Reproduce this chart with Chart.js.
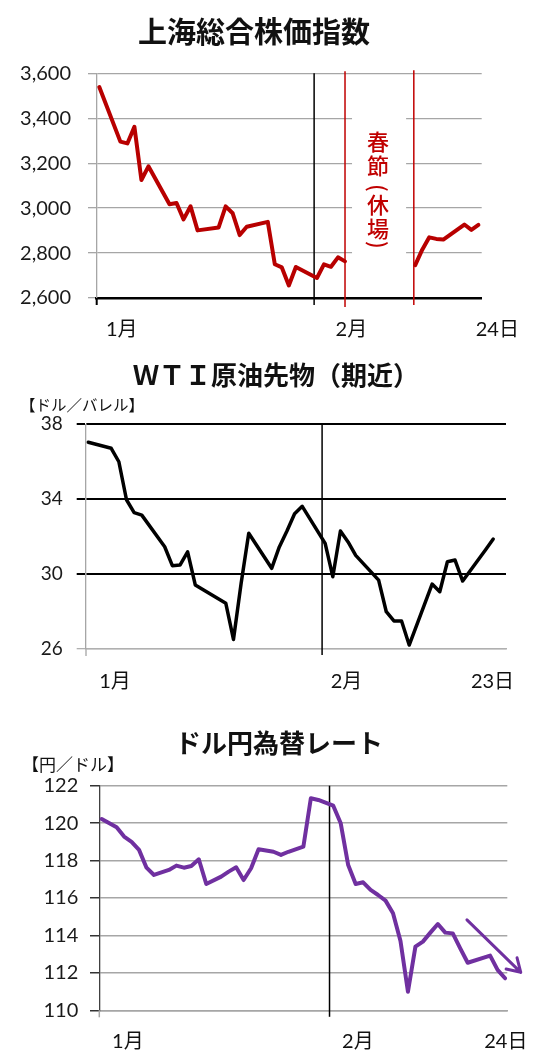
<!DOCTYPE html>
<html>
<head>
<meta charset="utf-8">
<script src="https://cdn.jsdelivr.net/npm/chart.js@4"></script>
<style>
  body { margin: 0; background: #fff; }
  canvas { display: block; }
</style>
</head>
<body>
<canvas id="sh-chart" width="555" height="345"></canvas>
<canvas id="wti-chart" width="555" height="360"></canvas>
<canvas id="jpy-chart" width="555" height="358"></canvas>
<script>
// x = day of the year (1 = Jan 1, 32 = Feb 1)
// 上海総合株価指数
const shDays   = [1, 4, 5, 6, 7, 8, 11, 12, 13, 14, 15, 18, 19, 20, 21, 22, 25, 26, 27, 28, 29, 32, 33, 34, 35, 36, 41, 46, 47, 48, 49, 50, 53, 54, 55];
const shValues = [3539, 3296, 3288, 3362, 3125, 3186, 3017, 3023, 2950, 3008, 2901, 2914, 3008, 2977, 2880, 2917, 2939, 2750, 2736, 2656, 2738, 2689, 2750, 2739, 2781, 2763, null, 2746, 2815, 2870, 2863, 2860, 2927, 2903, 2925];
const shTicks  = [2600, 3600, 200];
const shHoliday = [36, 45.8];          // 春節 休場の前後
const shXLabels = ['1月', '2月', '24日'];
const shXLabelDays = [4.2, 36.9, 57.7];

// WTI原油先物（期近）
const wtiDays   = [1, 4, 5, 6, 7, 8, 11, 12, 13, 14, 15, 19, 20, 21, 22, 25, 26, 27, 28, 29, 32, 33, 34, 35, 36, 39, 40, 41, 42, 43, 46, 47, 48, 49, 50, 53, 54];
const wtiValues = [37.04, 36.72, 36.0, 33.97, 33.28, 33.15, 31.46, 30.45, 30.48, 31.19, 29.42, 28.44, 26.51, 29.5, 32.18, 30.31, 31.45, 32.3, 33.22, 33.62, 31.64, 29.86, 32.3, 31.72, 31.0, 29.68, 27.99, 27.5, 27.5, 26.21, 29.47, 29.06, 30.66, 30.75, 29.63, 31.3, 31.87];
const wtiTicks  = [26, 38, 4];
const wtiXLabels = ['1月', '2月', '23日'];
const wtiXLabelDays = [4.5, 34.8, 53.9];

// ドル円為替レート
const jpyDays   = [1, 3, 4, 5, 6, 7, 8, 10, 11, 12, 13, 14, 15, 17, 18, 19, 20, 21, 22, 24, 25, 26, 28, 29, 30, 32, 33, 34, 35, 36, 37, 38, 39, 40, 41, 42, 43, 44, 45, 46, 47, 48, 49, 50, 53, 54, 55];
const jpyValues = [120.22, 119.78, 119.28, 119.0, 118.57, 117.62, 117.23, 117.5, 117.73, 117.62, 117.71, 118.07, 116.75, 117.14, 117.41, 117.64, 116.96, 117.59, 118.6, 118.47, 118.3, 118.47, 118.74, 121.33, 121.24, 120.93, 119.99, 117.76, 116.75, 116.84, 116.43, 116.16, 115.86, 115.18, 113.7, 110.99, 113.4, 113.67, 114.15, 114.61, 114.15, 114.11, 113.31, 112.54, 112.92, 112.16, 111.71];
const jpyTicks  = [110, 122, 2];
const jpyXLabels = ['1月', '2月', '24日'];
const jpyXLabelDays = [4.5, 35.3, 55.1];
const jpyArrow = [[49.9, 114.83], [57.1, 112.03]];

const monthLine = 31.6;   // 1月/2月 の境目

const toPoints = (days, vals) => days.map((d, i) => ({ x: d, y: vals[i] }));

const decor = (o) => ({
    id: 'decor',
    beforeDatasetsDraw(chart) {
        const { ctx, chartArea: a, scales: { x, y } } = chart;
        ctx.save();
        if (o.box) {
            const l = x.getPixelForValue(o.box[0]), r = x.getPixelForValue(o.box[1]);
            const t = y.getPixelForValue(o.box[2]), b = y.getPixelForValue(o.box[3]);
            ctx.fillStyle = '#fff';
            ctx.fillRect(l, t, r - l, b - t);
        }
        ctx.strokeStyle = o.tickColor;
        ctx.lineWidth = o.tickWidth;
        ctx.beginPath();
        ctx.moveTo(a.left, a.bottom);
        ctx.lineTo(a.left, a.bottom + 7);
        ctx.stroke();
        o.vlines.forEach(v => {
            const px = x.getPixelForValue(v.at);
            ctx.strokeStyle = v.color;
            ctx.lineWidth = v.width;
            ctx.beginPath();
            ctx.moveTo(px, a.top - (v.over || 0));
            ctx.lineTo(px, a.bottom + v.under);
            ctx.stroke();
        });
        ctx.restore();
    },
    afterDraw(chart) {
        const { ctx, chartArea: a, scales: { x, y } } = chart;
        ctx.save();
        ctx.fillStyle = '#111';
        ctx.textAlign = 'center';
        ctx.textBaseline = 'middle';
        ctx.font = o.titleFont;
        ctx.fillText(o.title, o.titleX, o.titleY);
        if (o.unit) {
            ctx.textAlign = 'left';
            ctx.font = o.unitFont;
            ctx.fillText(o.unit, o.unitX, o.unitY);
        }
        ctx.textAlign = 'center';
        ctx.font = '20px Lato, "Noto Sans CJK JP"';
        o.xLabelDays.forEach((d, i) => {
            ctx.fillText(o.xLabels[i], x.getPixelForValue(d), a.bottom + o.xLabelGap);
        });
        if (o.vtext) {
            const px = x.getPixelForValue(o.vtext.at);
            ctx.fillStyle = o.vtext.color;
            ctx.font = '500 22px "Noto Sans CJK JP"';
            o.vtext.chars.forEach(([ch, py, rot]) => {
                ctx.save();
                ctx.translate(px, py);
                if (rot) ctx.rotate(Math.PI / 2);
                ctx.fillText(ch, 0, 0);
                ctx.restore();
            });
        }
        if (o.arrow) {
            const [s, e] = o.arrow;
            const x0 = x.getPixelForValue(s[0]), y0 = y.getPixelForValue(s[1]);
            const x1 = x.getPixelForValue(e[0]), y1 = y.getPixelForValue(e[1]);
            const ang = Math.atan2(y0 - y1, x0 - x1);
            ctx.strokeStyle = o.arrowColor;
            ctx.lineWidth = 3;
            ctx.lineCap = 'round';
            ctx.beginPath();
            ctx.moveTo(x0, y0);
            ctx.lineTo(x1, y1);
            [0.55, -0.55].forEach(d => {
                ctx.moveTo(x1, y1);
                ctx.lineTo(x1 + 15 * Math.cos(ang + d), y1 + 15 * Math.sin(ang + d));
            });
            ctx.stroke();
        }
        ctx.restore();
    }
});

const makeChart = (id, c) => {
    const option = {
        type: 'line',
        data: {
            datasets: [{
                data: toPoints(c.days, c.values),
                borderColor: c.color,
                borderWidth: c.lineWidth,
                pointRadius: 0,
                tension: 0,
                spanGaps: false,
                borderJoinStyle: 'round',
                borderCapStyle: 'round',
            }]
        },
        options: {
            responsive: false,
            animation: false,
            events: [],
            layout: { padding: c.padding },
            plugins: { legend: { display: false }, tooltip: { enabled: false } },
            scales: {
                x: {
                    type: 'linear',
                    min: c.xRange[0],
                    max: c.xRange[1],
                    grid: { display: false, drawTicks: false },
                    ticks: { display: false },
                    border: { color: c.xAxisColor, width: c.xAxisWidth },
                    afterFit: s => { s.height = 0; }
                },
                y: {
                    min: c.ticks[0],
                    max: c.ticks[1],
                    ticks: {
                        stepSize: c.ticks[2],
                        padding: c.labelPad,
                        color: '#1a1a1a',
                        font: { family: 'Lato', size: c.labelSize },
                        callback: v => v.toLocaleString('en-US')
                    },
                    grid: {
                        color: c.gridColor,
                        lineWidth: c.gridWidth,
                        tickLength: c.tickLength,
                        tickColor: c.tickColor || c.gridColor
                    },
                    border: { color: c.yAxisColor, width: 1.3 },
                    afterFit: s => { s.width = c.axisLeft; }
                }
            }
        },
        plugins: [decor(c.decor)]
    };
    new Chart(document.getElementById(id), option);
};

makeChart('sh-chart', {
    days: shDays, values: shValues, ticks: shTicks,
    color: '#b80000', lineWidth: 4,
    xRange: [0.63, 55.47],
    padding: { left: 0, top: 73.3, right: 73.3, bottom: 47 },
    axisLeft: 96.7, labelPad: 17, labelSize: 20, tickLength: 8.7,
    gridColor: '#a6a6a6', gridWidth: 1.3, yAxisColor: '#a6a6a6',
    xAxisColor: '#000', xAxisWidth: 2.5,
    decor: {
        title: '上海総合株価指数', titleFont: 'bold 29px "Noto Sans CJK JP"', titleX: 254, titleY: 32,
        xLabels: shXLabels, xLabelDays: shXLabelDays, xLabelGap: 32,
        tickColor: '#000', tickWidth: 2,
        box: [37.0, 44.7, 3580, 2620],
        vlines: [
            { at: monthLine, color: '#000', width: 1.5, under: 7 },
            { at: shHoliday[0], color: '#c00000', width: 1.5, over: 2, under: 9 },
            { at: shHoliday[1], color: '#c00000', width: 1.5, over: 3, under: 7 }
        ],
        vtext: {
            at: 40.7, color: '#c00000',
            chars: [['春', 142], ['節', 166], ['(', 188, true], ['休', 205], ['場', 229], [')', 245, true]]
        }
    }
});

makeChart('wti-chart', {
    days: wtiDays, values: wtiValues, ticks: wtiTicks,
    color: '#000', lineWidth: 3.5,
    xRange: [0.7, 55.67],
    padding: { left: 0, top: 79.3, right: 49, bottom: 56 },
    axisLeft: 86, labelPad: 14, labelSize: 19, tickLength: 9.3,
    gridColor: c => c.tick && c.tick.value === wtiTicks[0] ? '#b0b0b0' : '#000',
    gridWidth: c => c.tick && c.tick.value === wtiTicks[0] ? 1.3 : 2,
    yAxisColor: '#a6a6a6',
    xAxisColor: '#b0b0b0', xAxisWidth: 1.5,
    decor: {
        title: 'ＷＴＩ原油先物（期近）', titleFont: 'bold 26px "Noto Sans CJK JP"', titleX: 276, titleY: 30,
        unit: '【ドル／バレル】', unitFont: '15.5px "Noto Sans CJK JP"', unitX: 20, unitY: 60,
        xLabels: wtiXLabels, xLabelDays: wtiXLabelDays, xLabelGap: 32.7,
        tickColor: '#b0b0b0', tickWidth: 1.5,
        vlines: [{ at: monthLine, color: '#000', width: 1.5, under: 6 }]
    }
});

makeChart('jpy-chart', {
    days: jpyDays, values: jpyValues, ticks: jpyTicks,
    color: '#7030a0', lineWidth: 4,
    xRange: [0.68, 55.3],
    padding: { left: 0, top: 80.7, right: 47.7, bottom: 52.7 },
    axisLeft: 99.3, labelPad: 11.7, labelSize: 20, tickLength: 9.3,
    gridColor: '#a6a6a6', gridWidth: 1.5, tickColor: '#333', yAxisColor: '#404040',
    xAxisColor: '#a6a6a6', xAxisWidth: 1.5,
    decor: {
        title: 'ドル円為替レート', titleFont: 'bold 26px "Noto Sans CJK JP"', titleX: 279, titleY: 38,
        unit: '【円／ドル】', unitFont: '17px "Noto Sans CJK JP"', unitX: 22, unitY: 60,
        xLabels: jpyXLabels, xLabelDays: jpyXLabelDays, xLabelGap: 31.4,
        tickColor: '#a6a6a6', tickWidth: 1.5,
        vlines: [{ at: 31.5, color: '#000', width: 1.5, under: 6.5 }],
        arrow: jpyArrow, arrowColor: '#7030a0'
    }
});
</script>
</body>
</html>
